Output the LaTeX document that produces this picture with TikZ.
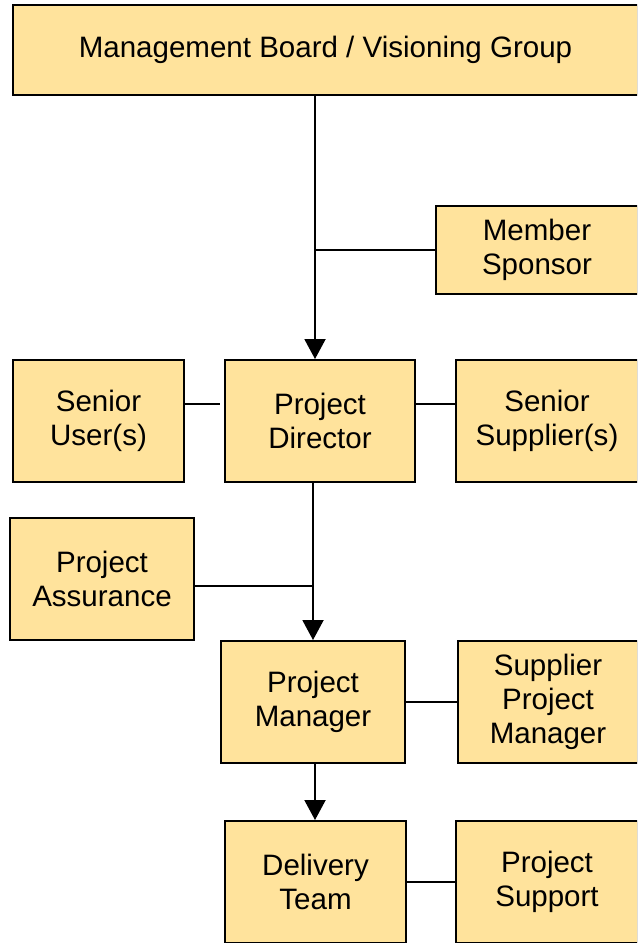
\documentclass[tikz,border=0pt]{standalone}
\usepackage{fontspec}
\setmainfont{Liberation Sans}
\usetikzlibrary{arrows.meta, calc}
\usetikzlibrary{positioning}
\usepackage{xcolor}
\definecolor{rolefill}{HTML}{FFE39C}

\tikzset{
  role/.style={draw, fill=rolefill, line width=1.1pt, align=center,
    inner sep=0pt, font=\fontsize{16.8}{19.2}\selectfont},
  link/.style={line width=1.1pt},
  down/.style={line width=1.1pt, -{Triangle[length=0.4cm, width=0.42cm]}}
}

\begin{document}
\begin{tikzpicture}[x=0.02cm, y=-0.02cm]
     \clip (0,0) rectangle (637,943);
     \node[role, minimum width=625*0.02cm, minimum height=90*0.02cm] (board) at (325.5, 50)  {Management Board / Visioning Group};
     \node[role, minimum width=202*0.02cm, minimum height=88*0.02cm] (sponsor) at (537, 250)  {Member\\Sponsor};
     \node[role, minimum width=171*0.02cm, minimum height=122*0.02cm] (user) at (98.5, 421)  {Senior\\User(s)};
     \node[role, minimum width=190*0.02cm, minimum height=122*0.02cm] (director) at (320, 421)  {Project\\Director};
     \node[role, minimum width=182*0.02cm, minimum height=122*0.02cm] (supplier) at (547, 421)  {Senior\\Supplier(s)};
     \node[role, minimum width=184*0.02cm, minimum height=122*0.02cm] (assurance) at (102, 579)  {Project\\Assurance};
     \node[role, minimum width=184*0.02cm, minimum height=122*0.02cm] (manager) at (313, 702)  {Project\\Manager};
     \node[role, minimum width=180*0.02cm, minimum height=122*0.02cm] (spm) at (548, 702)  {Supplier\\Project\\Manager};
     \node[role, minimum width=181*0.02cm, minimum height=122*0.02cm] (delivery) at (315.5, 882)  {Delivery\\Team};
     \node[role, minimum width=182*0.02cm, minimum height=122*0.02cm] (support) at (547, 882)  {Project\\Support};

     \coordinate (spine) at (315, 0);
     \draw[down] (board.south -| spine) -- (director.north -| spine);
     \draw[link] (sponsor.west) -- (sponsor.west -| spine);

     \draw[link] ($(user.east)+(0,-17)$) coordinate (u1) -- ($(u1 -| director.west)+(-4,0)$);
     \draw[link] ($(director.east)+(0,-17)$) -- ($(supplier.west)+(0,-17)$);

     \draw[down] (director.south -| manager) -- (manager.north);
     \draw[link] ($(assurance.east)+(0,7)$) coordinate (a1) -- (a1 -| manager.north);

     \draw[link] (manager.east) -- (spm.west);
     \draw[down] (manager.south -| spine) -- (delivery.north -| spine);
     \draw[link] (delivery.east) -- (support.west);
   \end{tikzpicture}
\end{document}
